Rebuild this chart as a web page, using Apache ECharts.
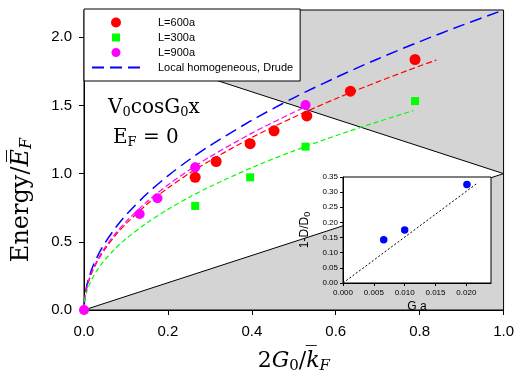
<!DOCTYPE html>
<html><head><meta charset="utf-8">
<script src="https://cdn.jsdelivr.net/npm/echarts@6/dist/echarts.min.js"></script>
<style>html,body{margin:0;padding:0;background:#fff}#c{width:517px;height:379px}</style>
</head><body><div id="c"></div><script>
// ---- tick labels ----
const xTicks = [0, 0.2, 0.4, 0.6, 0.8, 1.0];
const yTicks = [0, 0.5, 1.0, 1.5, 2.0];
const insetXTicks = [0, 0.005, 0.010, 0.015, 0.020];
const insetYTicks = [0, 0.05, 0.10, 0.15, 0.20, 0.25, 0.30, 0.35];

// ---- simulation points ----
const L600 = [[0.265,0.973],[0.315,1.089],[0.396,1.22],[0.453,1.314],[0.531,1.423],[0.635,1.605],[0.789,1.837]];
const L300 = [[0.265,0.763],[0.396,0.973],[0.528,1.198],[0.789,1.532]];
const L900 = [[0,0],[0.1327,0.704],[0.175,0.82],[0.265,1.046],[0.528,1.503]];

// ---- curves ----
const drudeX = [0,0.002,0.005,0.01,0.02,0.035,0.05,0.075,0.1,0.15,0.2,0.25,0.3,0.4,0.5,0.6,0.7,0.8,0.9,1.0];
const drudeY = [0,0.098,0.156,0.22,0.311,0.412,0.492,0.602,0.696,0.852,0.984,1.1,1.205,1.391,1.556,1.704,1.841,1.968,2.087,2.2];
const fit600X = [0,0.002,0.005,0.01,0.02,0.035,0.05,0.075,0.1,0.15,0.2,0.25,0.3,0.4,0.5,0.6,0.7,0.8,0.84];
const fit600Y = [0,0.089,0.141,0.2,0.283,0.374,0.447,0.548,0.632,0.775,0.894,1.0,1.095,1.265,1.414,1.549,1.673,1.789,1.833];
const fit900X = [0,0.002,0.005,0.01,0.02,0.035,0.05,0.075,0.1,0.15,0.2,0.25,0.3,0.4,0.5,0.53];
const fit900Y = [0,0.092,0.145,0.205,0.29,0.384,0.458,0.561,0.648,0.794,0.917,1.025,1.123,1.297,1.45,1.492];
const fit300X = [0,0.002,0.005,0.01,0.02,0.035,0.05,0.075,0.1,0.15,0.2,0.25,0.3,0.4,0.5,0.6,0.7,0.785];
const fit300Y = [0,0.074,0.117,0.165,0.233,0.309,0.369,0.452,0.522,0.639,0.738,0.825,0.904,1.044,1.167,1.278,1.38,1.462];

// ---- boundary lines of the shaded regions ----
const lowerBoundary = [[0,0],[1,1]];
const upperBoundary = [[0,2],[1,1]];

// ---- inset ----
const insetPoints = [[0.0066,0.143],[0.0100,0.175],[0.0201,0.325]];
const insetFit = [[0,0],[0.0216,0.327]];

const zip = (xs, ys) => xs.map((x, i) => [x, ys[i]]);
const SERIF = 'DejaVu Serif';
const SANS = 'Liberation Sans';
const GREY = '#d4d4d4';

const serifRich = (size, subSize, subPad) => ({
  a: {fontFamily: SERIF, fontSize: size, fontWeight: 'normal', color: '#000'},
  i: {fontFamily: SERIF, fontSize: size, fontStyle: 'italic', fontWeight: 'normal', color: '#000'},
  s: {fontFamily: SERIF, fontSize: subSize, fontWeight: 'normal', color: '#000', padding: [subPad,0,0,0]},
  t: {fontFamily: SERIF, fontSize: subSize, fontStyle: 'italic', fontWeight: 'normal', color: '#000', padding: [subPad,0,0,0]}
});

const chart = echarts.init(document.getElementById('c'), null, {renderer: 'canvas'});
chart.setOption({
  animation: false,
  backgroundColor: '#ffffff',
  title: [
    {text: '{a|V}{s|0}{a|cosG}{s|0}{a|x}', left: 103, top: 92, z: 10,
     textStyle: {fontWeight: 'normal', rich: serifRich(20, 13, 9)}},
    {text: '{a|E}{s|F}{a| = 0}', left: 108, top: 122, z: 10,
     textStyle: {fontWeight: 'normal', rich: serifRich(20, 13, 9)}}
  ],
  graphic: [
    {type: 'text', x: 22, y: 200, rotation: Math.PI / 2, z: 10,
     style: {text: '{a|Energy/}{i|E\u0305}{t|F}', align: 'center', verticalAlign: 'middle', rich: serifRich(24, 16, 10)}}
  ],
  legend: {
    orient: 'vertical', left: 84, top: 9,
    padding: [8, 7, 8, 7],
    itemWidth: 48, itemHeight: 10, itemGap: 4,
    backgroundColor: '#fff', borderColor: '#000', borderWidth: 1, borderRadius: 0,
    selectedMode: false, z: 20,
    textStyle: {fontFamily: SANS, fontSize: 11, color: '#000', padding: [0,0,0,13]},
    data: [
      {name: 'L=600a', icon: 'circle'},
      {name: 'L=300a', icon: 'path://M0,0M10,10M1,1H9V9H1Z'},
      {name: 'L=900a', icon: 'path://M0,0M10,10M5,0.5A4.5,4.5,0,1,1,4.99,0.5Z'},
      {name: 'Local homogeneous, Drude', itemStyle: {opacity: 0}}
    ]
  },
  grid: [
    {left: 84, top: 10, right: 11, bottom: 66, show: true, borderColor: '#000', borderWidth: 1, backgroundColor: 'transparent', z: 2},
    {left: 343, top: 177, width: 148, height: 106, show: true, borderColor: '#000', borderWidth: 1, backgroundColor: '#fff', z: 5}
  ],
  xAxis: [
    {gridIndex: 0, type: 'value', min: 0, max: 1, interval: 0.2, z: 2,
     axisLine: {show: true, lineStyle: {color: '#000', width: 1}},
     axisTick: {show: true, inside: false, length: 5, lineStyle: {color: '#000'}},
     axisLabel: {fontFamily: SANS, fontSize: 15, color: '#000', margin: 14, formatter: v => v.toFixed(1), customValues: xTicks},
     splitLine: {show: false},
     name: '{a|2}{i|G}{s|0}{a|/}{i|k\u0305}{t|F}', nameLocation: 'middle', nameGap: 39,
     nameTextStyle: {rich: serifRich(22, 15, 10)}},
    {gridIndex: 1, type: 'value', min: 0, max: 0.024, z: 6,
     axisLine: {show: true, lineStyle: {color: '#000', width: 1}},
     axisTick: {show: true, inside: false, length: 3, lineStyle: {color: '#000'}, customValues: insetXTicks},
     axisLabel: {fontFamily: SANS, fontSize: 8, color: '#000', margin: 6, formatter: v => v.toFixed(3), customValues: insetXTicks},
     splitLine: {show: false},
     name: 'G a', nameLocation: 'middle', nameGap: 18,
     nameTextStyle: {fontFamily: SANS, fontSize: 12, color: '#000'}}
  ],
  yAxis: [
    {gridIndex: 0, type: 'value', min: 0, max: 2.2, z: 2,
     axisLine: {show: true, lineStyle: {color: '#000', width: 1}},
     axisTick: {show: true, inside: false, length: 5, lineStyle: {color: '#000'}, customValues: yTicks},
     axisLabel: {fontFamily: SANS, fontSize: 15, color: '#000', margin: 12, formatter: v => v.toFixed(1), customValues: yTicks},
     splitLine: {show: false}},
    {gridIndex: 1, type: 'value', min: 0, max: 0.35, z: 6,
     axisLine: {show: true, lineStyle: {color: '#000', width: 1}},
     axisTick: {show: true, inside: false, length: 3, lineStyle: {color: '#000'}, customValues: insetYTicks},
     axisLabel: {fontFamily: SANS, fontSize: 8, color: '#000', margin: 5, formatter: v => v.toFixed(2), customValues: insetYTicks},
     splitLine: {show: false},
     name: '{a|1-D/D}{s|0}', nameLocation: 'middle', nameGap: 31, nameRotate: 90,
     nameTextStyle: {rich: {
       a: {fontFamily: SANS, fontSize: 12, color: '#000'},
       s: {fontFamily: SANS, fontSize: 9, color: '#000', padding: [6,0,0,0]}
     }}}
  ],
  series: [
    {type: 'line', name: 'upperRegion', xAxisIndex: 0, yAxisIndex: 0, data: upperBoundary, z: 1,
     symbol: 'none', lineStyle: {color: '#000', width: 1}, areaStyle: {color: GREY, opacity: 1, origin: 'end'}, silent: true},
    {type: 'line', name: 'lowerRegion', xAxisIndex: 0, yAxisIndex: 0, data: lowerBoundary, z: 1,
     symbol: 'none', lineStyle: {color: '#000', width: 1}, areaStyle: {color: GREY, opacity: 1, origin: 'start'}, silent: true},
    {type: 'line', name: 'Local homogeneous, Drude', xAxisIndex: 0, yAxisIndex: 0, data: zip(drudeX, drudeY), z: 3,
     symbol: 'none', smooth: 0.3, color: '#0000ff', lineStyle: {color: '#0000ff', width: 1.5, type: [12, 6]}},
    {type: 'line', name: 'fit600', xAxisIndex: 0, yAxisIndex: 0, data: zip(fit600X, fit600Y), z: 3,
     symbol: 'none', smooth: 0.3, lineStyle: {color: '#ff0000', width: 1.2, type: [6, 3]}},
    {type: 'line', name: 'fit900', xAxisIndex: 0, yAxisIndex: 0, data: zip(fit900X, fit900Y), z: 3,
     symbol: 'none', smooth: 0.3, lineStyle: {color: '#ff00ff', width: 1.2, type: [6, 3]}},
    {type: 'line', name: 'fit300', xAxisIndex: 0, yAxisIndex: 0, data: zip(fit300X, fit300Y), z: 3,
     symbol: 'none', smooth: 0.3, lineStyle: {color: '#00ff00', width: 1.2, type: [5, 3]}},
    {type: 'scatter', name: 'L=600a', xAxisIndex: 0, yAxisIndex: 0, data: L600, z: 4,
     symbol: 'circle', symbolSize: 11, itemStyle: {color: '#ff0000', opacity: 1}},
    {type: 'scatter', name: 'L=300a', xAxisIndex: 0, yAxisIndex: 0, data: L300, z: 4,
     symbol: 'rect', symbolSize: 8, itemStyle: {color: '#00ff00', opacity: 1}},
    {type: 'scatter', name: 'L=900a', xAxisIndex: 0, yAxisIndex: 0, data: L900, z: 4,
     symbol: 'circle', symbolSize: 10, itemStyle: {color: '#ff00ff', opacity: 1}},
    {type: 'line', name: 'insetFit', xAxisIndex: 1, yAxisIndex: 1, data: insetFit, z: 7,
     symbol: 'none', lineStyle: {color: '#000', width: 1, type: [2, 2]}},
    {type: 'scatter', name: 'insetPoints', xAxisIndex: 1, yAxisIndex: 1, data: insetPoints, z: 8,
     symbol: 'circle', symbolSize: 7.5, itemStyle: {color: '#0000ff', opacity: 1}}
  ]
});
</script></body></html>
